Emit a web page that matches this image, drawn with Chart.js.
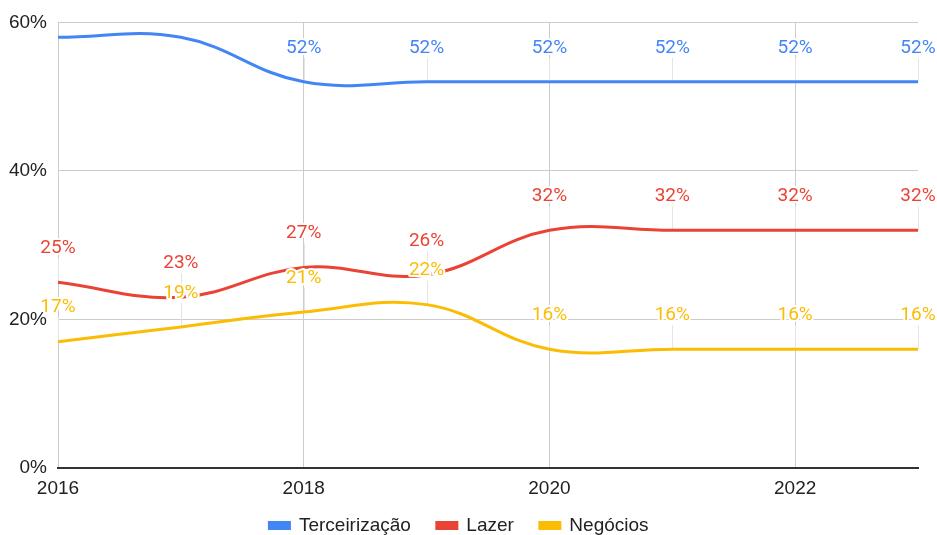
<!DOCTYPE html>
<html>
<head>
<meta charset="utf-8">
<script src="https://cdn.jsdelivr.net/npm/chart.js@4.4.1/dist/chart.umd.min.js"></script>
<style>
    html, body { margin: 0; padding: 0; background: #fff; }
    #divChartShare { width: 937px; height: 535px; }
</style>
</head>
<body>
<div id="divChartShare"><canvas id="chartShare" width="937" height="535"></canvas></div>
<script>
var years = [2016, 2017, 2018, 2019, 2020, 2021, 2022, 2023];
var terceirizacao = [58, 58, 52, 52, 52, 52, 52, 52];
var lazer = [25, 23, 27, 26, 32, 32, 32, 32];
var negocios = [17, 19, 21, 22, 16, 16, 16, 16];
var xTicks = [2016, 2018, 2020, 2022];
var yTicks = [0, 20, 40, 60];

function toPoints(values) {
    var pts = [];
    for (var i = 0; i < years.length; i++) {
        pts.push({ x: years[i], y: values[i] });
    }
    return pts;
}

// labels above every point, with a faint leader line and a white halo
var pointLabels = {
    id: 'pointLabels',
    beforeUpdate: function(chart) {
        // smaller legend box so the plot reaches down to the axis line
        if (chart.legend && !chart.legend._fixedFit) {
            var origFit = chart.legend.fit;
            chart.legend.fit = function() {
                origFit.call(this);
                this.height = 35;
            };
            chart.legend._fixedFit = true;
        }
    },
    afterLayout: function(chart) {
        // let the legend box overlap the x labels a bit
        if (chart.legend) {
            chart.legend.top -= 10;
            chart.legend.height += 10;
        }
    },
    beforeDatasetsDraw: function(chart) {
        var ctx = chart.ctx;
        ctx.save();
        ctx.strokeStyle = '#e4e4e4';
        ctx.lineWidth = 1;
        chart.data.datasets.forEach(function(ds, d) {
            chart.getDatasetMeta(d).data.forEach(function(pt) {
                var ly = pt.y - 34;
                if (ly - 9 < 0) return;
                ctx.beginPath();
                ctx.moveTo(Math.round(pt.x) + 0.5, ly + 10);
                ctx.lineTo(Math.round(pt.x) + 0.5, pt.y);
                ctx.stroke();
            });
        });
        ctx.restore();
    },
    afterDatasetsDraw: function(chart) {
        var ctx = chart.ctx;
        ctx.save();
        ctx.font = '19px Roboto';
        ctx.textAlign = 'center';
        ctx.textBaseline = 'middle';
        ctx.lineJoin = 'round';
        chart.data.datasets.forEach(function(ds, d) {
            chart.getDatasetMeta(d).data.forEach(function(pt, i) {
                var ly = pt.y - 34;
                if (ly - 9 < 0) return;
                var txt = ds.data[i].y + '%';
                ctx.strokeStyle = '#fff';
                ctx.lineWidth = 4;
                ctx.strokeText(txt, pt.x, ly);
                ctx.fillStyle = ds.borderColor;
                ctx.fillText(txt, pt.x, ly);
            });
        });
        ctx.restore();
    }
};

var ctx = document.getElementById('chartShare');
var myLineChart = new Chart(ctx, {
    type: 'line',
    data: {
        datasets: [{
            label: 'Terceirização',
            data: toPoints(terceirizacao),
            borderColor: '#4285F4',
            backgroundColor: '#4285F4'
        }, {
            label: 'Lazer',
            data: toPoints(lazer),
            borderColor: '#EA4335',
            backgroundColor: '#EA4335'
        }, {
            label: 'Negócios',
            data: toPoints(negocios),
            borderColor: '#FBBC04',
            backgroundColor: '#FBBC04'
        }]
    },
    plugins: [pointLabels],
    options: {
        responsive: false,
        animation: false,
        devicePixelRatio: 1,
        clip: false,
        elements: {
            line: { borderWidth: 3, tension: 0.4, fill: false },
            point: { radius: 0, hoverRadius: 0 }
        },
        layout: { padding: { left: 0, right: 19, top: 20, bottom: 0 } },
        plugins: {
            tooltip: { enabled: false },
            legend: {
                position: 'bottom',
                labels: {
                    boxWidth: 20,
                    boxHeight: 6,
                    padding: 26,
                    color: '#222',
                    font: { family: 'Liberation Sans, Arial', size: 19 }
                }
            }
        },
        scales: {
            x: {
                type: 'linear',
                min: 2016,
                max: 2023,
                afterBuildTicks: function(scale) {
                    scale.ticks = xTicks.map(function(v) { return { value: v }; });
                },
                afterFit: function(scale) { scale.height = 32; },
                grid: { color: '#cccccc', drawTicks: false },
                border: { color: '#333333', width: 2 },
                ticks: {
                    padding: 9,
                    color: '#222',
                    maxRotation: 0,
                    font: { family: 'Liberation Sans, Arial', size: 19 },
                    callback: function(v) { return String(v); }
                }
            },
            y: {
                min: 0,
                max: 60,
                afterBuildTicks: function(scale) {
                    scale.ticks = yTicks.map(function(v) { return { value: v }; });
                },
                afterFit: function(scale) { scale.width = 58; },
                grid: { color: '#cccccc', drawTicks: false },
                border: { display: false },
                ticks: {
                    padding: 11,
                    color: '#222',
                    font: { family: 'Liberation Sans, Arial', size: 19 },
                    callback: function(v) { return v + '%'; }
                }
            }
        }
    }
});
</script>
</body>
</html>
